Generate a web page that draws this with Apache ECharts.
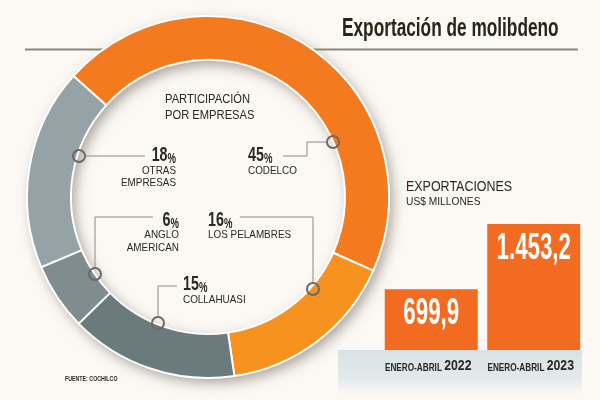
<!DOCTYPE html>
<html>
<head>
<meta charset="utf-8">
<script src="https://cdn.jsdelivr.net/npm/echarts@6/dist/echarts.min.js"></script>
<style>
  html, body { margin: 0; padding: 0; background: #fcf8f3; }
  #chart { width: 600px; height: 400px; }
</style>
</head>
<body>
<div id="chart"></div>
<script>
// donut: share of molybdenum exports by company (%)
const companies = ['CODELCO', 'LOS PELAMBRES', 'COLLAHUASI', 'ANGLO AMERICAN', 'OTRAS EMPRESAS'];
const shares = [45, 16, 15, 6, 18];
const shareColors = ['#f47a20', '#f7921e', '#6b7a7d', '#7f8d8f', '#95a3a7'];

// bars: exports, US$ millones
const periods = ['2022', '2023'];
const exportValues = [699.9, 1453.2];
const exportLabels = ['699,9', '1.453,2'];

const bg = '#fcf8f3';
const ink = '#2b2722';
const sans = '"Liberation Sans", Arial, sans-serif';

const chart = echarts.init(document.getElementById('chart'));

function txt(x, y, text, o) {
    return {
        type: 'text', x: x, y: y, z: 10,
        scaleX: o.sx || 1,
        style: {
            text: text,
            fill: o.color || ink,
            fontFamily: sans,
            fontSize: o.size,
            fontWeight: o.weight || 'normal',
            textAlign: o.align || 'left',
            textVerticalAlign: 'middle',
            rich: o.rich || {}
        }
    };
}

function pct(x, y, v, align) {
    return txt(x, y, '{n|' + v + '}{p|%}', {
        size: 21, weight: 'bold', align: align, sx: 0.68,
        rich: {
            n: { fontSize: 21, fontWeight: 'bold', fontFamily: sans, fill: ink, verticalAlign: 'bottom', lineHeight: 22 },
            p: { fontSize: 14, fontWeight: 'bold', fontFamily: sans, fill: ink, verticalAlign: 'bottom', lineHeight: 22 }
        }
    });
}

function leader(points, circle) {
    return [
        { type: 'polyline', z: 9, shape: { points: points },
          style: { stroke: '#8e8c88', lineWidth: 1, fill: null } },
        { type: 'circle', z: 9, shape: { cx: circle[0], cy: circle[1], r: 6 },
          style: { stroke: '#6a6a66', lineWidth: 2, fill: 'transparent' } }
    ];
}

const graphics = [
    // rule under the title
    { type: 'line', z: 0, shape: { x1: 25, y1: 49.5, x2: 578, y2: 49.5 },
      style: { stroke: '#8c857b', lineWidth: 2 } },
    // strip behind the period labels
    { type: 'rect', z: 0, shape: { x: 338, y: 350, width: 244, height: 44 },
      style: { fill: new echarts.graphic.LinearGradient(0, 0, 0, 1, [
          { offset: 0, color: '#d8e2e6' }, { offset: 0.65, color: '#e3e9eb' }, { offset: 1, color: bg }
      ]) } },
    // shadow of the ring, cast down-right (outside and onto the inner disk)
    { type: 'ring', z: 1, shape: { cx: 208, cy: 197, r: 180, r0: 138 },
      style: { fill: '#8a8580', shadowBlur: 14, shadowColor: '#a09a93', shadowOffsetX: 4, shadowOffsetY: 5 } },

    txt(342, 29, 'Exportación de molibdeno', { size: 25, weight: 'bold', sx: 0.69, color: '#2a2418' }),

    txt(165, 99, 'PARTICIPACIÓN', { size: 13, sx: 0.86 }),
    txt(165, 115, 'POR EMPRESAS', { size: 13, sx: 0.86 }),

    pct(176, 155, shares[4], 'right'),
    txt(176, 171, 'OTRAS', { size: 11, sx: 0.9, align: 'right' }),
    txt(176, 183, 'EMPRESAS', { size: 11, sx: 0.9, align: 'right' }),

    pct(248, 155, shares[0], 'left'),
    txt(248, 171, 'CODELCO', { size: 11, sx: 0.9 }),

    pct(179, 220, shares[3], 'right'),
    txt(179, 235, 'ANGLO', { size: 11, sx: 0.9, align: 'right' }),
    txt(179, 248, 'AMERICAN', { size: 11, sx: 0.9, align: 'right' }),

    pct(208, 220, shares[1], 'left'),
    txt(208, 235, 'LOS PELAMBRES', { size: 11, sx: 0.9 }),

    pct(183, 284, shares[2], 'left'),
    txt(183, 300, 'COLLAHUASI', { size: 11, sx: 0.9 }),

    txt(406, 187, 'EXPORTACIONES', { size: 14, sx: 0.89 }),
    txt(406, 202, 'US$ MILLONES', { size: 11, sx: 0.93 }),

    txt(65, 379, 'FUENTE: COCHILCO', { size: 8, weight: 'bold', sx: 0.66 })
]
    .concat(leader([[145, 156], [85, 156]], [79, 156]))
    .concat(leader([[283, 156], [307, 156], [307, 142], [327, 142]], [333, 142]))
    .concat(leader([[153, 217], [95, 217], [95, 268]], [95, 274]))
    .concat(leader([[240, 217], [313, 217], [313, 283]], [313, 289]))
    .concat(leader([[177, 286], [158, 286], [158, 317]], [158, 323]));

// condensed value and period labels, positioned through the bar axes
function renderBarText(params, api) {
    const i = params.dataIndex;
    const top = api.coord([api.value(0), api.value(1)]);
    const base = api.coord([api.value(0), 0]);
    const value = txt(top[0], top[1] + 25, exportLabels[i], { size: 36, weight: 'bold', sx: 0.62, color: '#ffffff', align: 'center' });
    const period = txt(base[0] - 3, base[1] + 15, '{a|ENERO-ABRIL} {b|' + periods[i] + '}', {
        size: 10, weight: 'bold', sx: 0.82, align: 'center',
        rich: {
            a: { fontSize: 10, fontWeight: 'bold', fontFamily: sans, fill: ink, verticalAlign: 'bottom', lineHeight: 16 },
            b: { fontSize: 15, fontWeight: 'bold', fontFamily: sans, fill: ink, verticalAlign: 'bottom', lineHeight: 16 }
        }
    });
    return { type: 'group', children: [value, period] };
}

chart.setOption({
    backgroundColor: bg,
    animation: false,
    grid: { left: 380, width: 205, top: 224, bottom: 50 },
    xAxis: {
        type: 'category',
        data: periods,
        axisLine: { show: false },
        axisTick: { show: false },
        axisLabel: { show: false }
    },
    yAxis: { type: 'value', min: 0, max: 1453.2, show: false },
    graphic: graphics,
    series: [
        {
            type: 'pie',
            z: 3,
            center: [208, 197],
            radius: [137, 181],
            startAngle: 138,
            label: { show: false },
            labelLine: { show: false },
            itemStyle: { borderColor: '#ffffff', borderWidth: 2 },
            data: companies.map(function (c, i) {
                return { name: c, value: shares[i], itemStyle: { color: shareColors[i] } };
            })
        },
        {
            type: 'bar',
            data: exportValues,
            barWidth: 93,
            itemStyle: { color: '#f26b21' }
        },
        {
            type: 'custom',
            z: 5,
            clip: false,
            data: exportValues.map(function (v, i) { return [i, v]; }),
            renderItem: renderBarText
        }
    ]
});
</script>
</body>
</html>
